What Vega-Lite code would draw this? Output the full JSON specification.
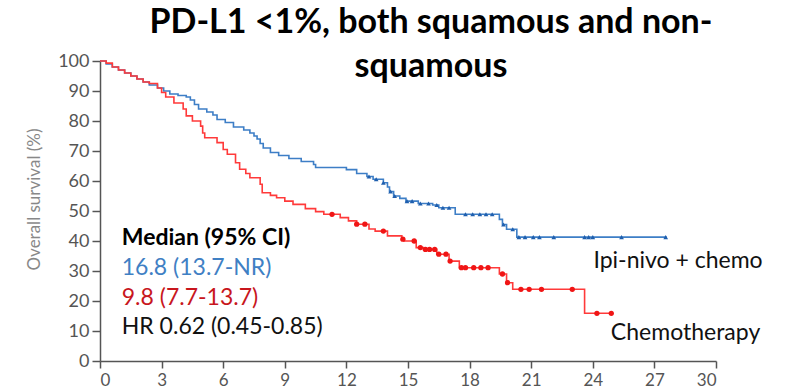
{
  "$schema": "https://vega.github.io/schema/vega-lite/v6.json",
  "width": 616,
  "height": 300,
  "autosize": "none",
  "padding": {"left": 100, "top": 61, "right": 73, "bottom": 31},
  "background": "white",
  "config": {
    "view": {"stroke": null},
    "font": "Lato",
    "axis": {
      "grid": false,
      "labelOverlap": false,
      "domainColor": "#555555",
      "domainWidth": 1.5,
      "tickColor": "#555555",
      "tickWidth": 1.5,
      "labelFont": "Lato",
      "labelColor": "#555555"
    },
    "axisX": {
      "tickSize": 7,
      "labelFontSize": 17,
      "labelPadding": 4
    },
    "axisY": {
      "tickSize": 8,
      "labelFontSize": 18,
      "labelPadding": 3,
      "titleFont": "Lato",
      "titleFontSize": 17,
      "titleFontWeight": "normal",
      "titleColor": "#888888",
      "titlePadding": 14,
      "titleY": 138
    }
  },
  "title": {
    "text": ["PD-L1 <1%, both squamous and non-", "squamous"],
    "font": "Lato",
    "fontSize": 34,
    "fontWeight": "bold",
    "color": "#000000",
    "lineHeight": 44,
    "anchor": "middle",
    "frame": "group",
    "dx": 23,
    "offset": -32
  },
  "datasets": {
    "curves": [
      {"arm": "Ipi-nivo + chemo", "month": 0, "surv": 100},
      {"arm": "Ipi-nivo + chemo", "month": 0.3, "surv": 99},
      {"arm": "Ipi-nivo + chemo", "month": 0.6, "surv": 98},
      {"arm": "Ipi-nivo + chemo", "month": 0.9, "surv": 97},
      {"arm": "Ipi-nivo + chemo", "month": 1.2, "surv": 96},
      {"arm": "Ipi-nivo + chemo", "month": 1.5, "surv": 95},
      {"arm": "Ipi-nivo + chemo", "month": 1.8, "surv": 94},
      {"arm": "Ipi-nivo + chemo", "month": 2.1, "surv": 93},
      {"arm": "Ipi-nivo + chemo", "month": 2.4, "surv": 92},
      {"arm": "Ipi-nivo + chemo", "month": 2.8, "surv": 91},
      {"arm": "Ipi-nivo + chemo", "month": 3.1, "surv": 90},
      {"arm": "Ipi-nivo + chemo", "month": 3.4, "surv": 89},
      {"arm": "Ipi-nivo + chemo", "month": 3.8, "surv": 88.5},
      {"arm": "Ipi-nivo + chemo", "month": 4.2, "surv": 88},
      {"arm": "Ipi-nivo + chemo", "month": 4.4, "surv": 87},
      {"arm": "Ipi-nivo + chemo", "month": 4.6, "surv": 85.5},
      {"arm": "Ipi-nivo + chemo", "month": 4.8, "surv": 84},
      {"arm": "Ipi-nivo + chemo", "month": 5.2, "surv": 83},
      {"arm": "Ipi-nivo + chemo", "month": 5.5, "surv": 82},
      {"arm": "Ipi-nivo + chemo", "month": 5.7, "surv": 80.5},
      {"arm": "Ipi-nivo + chemo", "month": 6.1, "surv": 79.5},
      {"arm": "Ipi-nivo + chemo", "month": 6.5, "surv": 78},
      {"arm": "Ipi-nivo + chemo", "month": 7.0, "surv": 77},
      {"arm": "Ipi-nivo + chemo", "month": 7.3, "surv": 76},
      {"arm": "Ipi-nivo + chemo", "month": 7.5, "surv": 75},
      {"arm": "Ipi-nivo + chemo", "month": 7.65, "surv": 74},
      {"arm": "Ipi-nivo + chemo", "month": 7.8, "surv": 72.5},
      {"arm": "Ipi-nivo + chemo", "month": 7.95, "surv": 71},
      {"arm": "Ipi-nivo + chemo", "month": 8.3, "surv": 69.5},
      {"arm": "Ipi-nivo + chemo", "month": 8.7, "surv": 68.5},
      {"arm": "Ipi-nivo + chemo", "month": 9.2, "surv": 67.5},
      {"arm": "Ipi-nivo + chemo", "month": 9.8, "surv": 66.5},
      {"arm": "Ipi-nivo + chemo", "month": 10.4, "surv": 65.5},
      {"arm": "Ipi-nivo + chemo", "month": 10.5, "surv": 64.5},
      {"arm": "Ipi-nivo + chemo", "month": 12.0, "surv": 63.8},
      {"arm": "Ipi-nivo + chemo", "month": 12.5, "surv": 62.5},
      {"arm": "Ipi-nivo + chemo", "month": 13.0, "surv": 61.5},
      {"arm": "Ipi-nivo + chemo", "month": 13.3, "surv": 60.6},
      {"arm": "Ipi-nivo + chemo", "month": 13.8, "surv": 59.4},
      {"arm": "Ipi-nivo + chemo", "month": 14.0, "surv": 58},
      {"arm": "Ipi-nivo + chemo", "month": 14.1, "surv": 56.5},
      {"arm": "Ipi-nivo + chemo", "month": 14.3, "surv": 55},
      {"arm": "Ipi-nivo + chemo", "month": 14.6, "surv": 54.2},
      {"arm": "Ipi-nivo + chemo", "month": 14.9, "surv": 53.3},
      {"arm": "Ipi-nivo + chemo", "month": 15.5, "surv": 52.5},
      {"arm": "Ipi-nivo + chemo", "month": 16.2, "surv": 52},
      {"arm": "Ipi-nivo + chemo", "month": 16.5, "surv": 51.1},
      {"arm": "Ipi-nivo + chemo", "month": 17.3, "surv": 48.9},
      {"arm": "Ipi-nivo + chemo", "month": 19.45, "surv": 47.2},
      {"arm": "Ipi-nivo + chemo", "month": 19.6, "surv": 45.5},
      {"arm": "Ipi-nivo + chemo", "month": 19.8, "surv": 43.9},
      {"arm": "Ipi-nivo + chemo", "month": 20.3, "surv": 41.3},
      {"arm": "Ipi-nivo + chemo", "month": 27.6, "surv": 41.3},
      {"arm": "Chemotherapy", "month": 0, "surv": 100},
      {"arm": "Chemotherapy", "month": 0.3, "surv": 99.3},
      {"arm": "Chemotherapy", "month": 0.6, "surv": 98},
      {"arm": "Chemotherapy", "month": 0.9, "surv": 97},
      {"arm": "Chemotherapy", "month": 1.2, "surv": 96},
      {"arm": "Chemotherapy", "month": 1.5, "surv": 95},
      {"arm": "Chemotherapy", "month": 1.8, "surv": 94},
      {"arm": "Chemotherapy", "month": 2.1, "surv": 93},
      {"arm": "Chemotherapy", "month": 2.4, "surv": 92.5},
      {"arm": "Chemotherapy", "month": 2.8, "surv": 91},
      {"arm": "Chemotherapy", "month": 3.0, "surv": 89.5},
      {"arm": "Chemotherapy", "month": 3.2, "surv": 88},
      {"arm": "Chemotherapy", "month": 3.6, "surv": 86},
      {"arm": "Chemotherapy", "month": 4.05, "surv": 84},
      {"arm": "Chemotherapy", "month": 4.2, "surv": 81.7},
      {"arm": "Chemotherapy", "month": 4.5, "surv": 80},
      {"arm": "Chemotherapy", "month": 4.9, "surv": 78.3},
      {"arm": "Chemotherapy", "month": 5.0, "surv": 76},
      {"arm": "Chemotherapy", "month": 5.1, "surv": 74.4},
      {"arm": "Chemotherapy", "month": 5.7, "surv": 72.8},
      {"arm": "Chemotherapy", "month": 6.0, "surv": 70.5},
      {"arm": "Chemotherapy", "month": 6.2, "surv": 68.9},
      {"arm": "Chemotherapy", "month": 6.6, "surv": 66.1},
      {"arm": "Chemotherapy", "month": 6.8, "surv": 63.9},
      {"arm": "Chemotherapy", "month": 7.1, "surv": 62.5},
      {"arm": "Chemotherapy", "month": 7.3, "surv": 61.1},
      {"arm": "Chemotherapy", "month": 7.8, "surv": 58.9},
      {"arm": "Chemotherapy", "month": 7.9, "surv": 56.1},
      {"arm": "Chemotherapy", "month": 8.3, "surv": 55.2},
      {"arm": "Chemotherapy", "month": 8.6, "surv": 54.4},
      {"arm": "Chemotherapy", "month": 9.0, "surv": 53.3},
      {"arm": "Chemotherapy", "month": 9.4, "surv": 52.2},
      {"arm": "Chemotherapy", "month": 10.0, "surv": 50.8},
      {"arm": "Chemotherapy", "month": 10.5, "surv": 49.8},
      {"arm": "Chemotherapy", "month": 10.9, "surv": 48.9},
      {"arm": "Chemotherapy", "month": 11.7, "surv": 47.8},
      {"arm": "Chemotherapy", "month": 12.1, "surv": 46.7},
      {"arm": "Chemotherapy", "month": 12.5, "surv": 45.6},
      {"arm": "Chemotherapy", "month": 13.1, "surv": 44},
      {"arm": "Chemotherapy", "month": 13.4, "surv": 43.3},
      {"arm": "Chemotherapy", "month": 14.0, "surv": 41.7},
      {"arm": "Chemotherapy", "month": 14.7, "surv": 40.6},
      {"arm": "Chemotherapy", "month": 14.8, "surv": 40},
      {"arm": "Chemotherapy", "month": 15.4, "surv": 37.8},
      {"arm": "Chemotherapy", "month": 15.75, "surv": 37.2},
      {"arm": "Chemotherapy", "month": 16.4, "surv": 35.6},
      {"arm": "Chemotherapy", "month": 17.0, "surv": 33.3},
      {"arm": "Chemotherapy", "month": 17.5, "surv": 31.1},
      {"arm": "Chemotherapy", "month": 19.45, "surv": 29},
      {"arm": "Chemotherapy", "month": 19.8, "surv": 26.1},
      {"arm": "Chemotherapy", "month": 20.1, "surv": 23.9},
      {"arm": "Chemotherapy", "month": 23.6, "surv": 15.9},
      {"arm": "Chemotherapy", "month": 24.9, "surv": 15.9}
    ],
    "censored": [
      {"arm": "Ipi-nivo + chemo", "month": 13.1, "surv": 61.5},
      {"arm": "Ipi-nivo + chemo", "month": 13.45, "surv": 60.6},
      {"arm": "Ipi-nivo + chemo", "month": 13.8, "surv": 59.4},
      {"arm": "Ipi-nivo + chemo", "month": 14.15, "surv": 56.5},
      {"arm": "Ipi-nivo + chemo", "month": 14.35, "surv": 55},
      {"arm": "Ipi-nivo + chemo", "month": 14.95, "surv": 53.3},
      {"arm": "Ipi-nivo + chemo", "month": 15.2, "surv": 53.3},
      {"arm": "Ipi-nivo + chemo", "month": 15.6, "surv": 52.5},
      {"arm": "Ipi-nivo + chemo", "month": 16.0, "surv": 52.5},
      {"arm": "Ipi-nivo + chemo", "month": 16.4, "surv": 52},
      {"arm": "Ipi-nivo + chemo", "month": 16.7, "surv": 51.1},
      {"arm": "Ipi-nivo + chemo", "month": 17.0, "surv": 51.1},
      {"arm": "Ipi-nivo + chemo", "month": 17.8, "surv": 48.9},
      {"arm": "Ipi-nivo + chemo", "month": 18.15, "surv": 48.9},
      {"arm": "Ipi-nivo + chemo", "month": 18.5, "surv": 48.9},
      {"arm": "Ipi-nivo + chemo", "month": 18.8, "surv": 48.9},
      {"arm": "Ipi-nivo + chemo", "month": 19.1, "surv": 48.9},
      {"arm": "Ipi-nivo + chemo", "month": 19.65, "surv": 45.5},
      {"arm": "Ipi-nivo + chemo", "month": 20.1, "surv": 43.9},
      {"arm": "Ipi-nivo + chemo", "month": 20.4, "surv": 41.3},
      {"arm": "Ipi-nivo + chemo", "month": 20.7, "surv": 41.3},
      {"arm": "Ipi-nivo + chemo", "month": 21.1, "surv": 41.3},
      {"arm": "Ipi-nivo + chemo", "month": 21.4, "surv": 41.3},
      {"arm": "Ipi-nivo + chemo", "month": 22.1, "surv": 41.3},
      {"arm": "Ipi-nivo + chemo", "month": 23.6, "surv": 41.3},
      {"arm": "Ipi-nivo + chemo", "month": 23.8, "surv": 41.3},
      {"arm": "Ipi-nivo + chemo", "month": 24.0, "surv": 41.3},
      {"arm": "Ipi-nivo + chemo", "month": 25.4, "surv": 41.3},
      {"arm": "Ipi-nivo + chemo", "month": 27.55, "surv": 41.3},
      {"arm": "Chemotherapy", "month": 11.3, "surv": 48.9},
      {"arm": "Chemotherapy", "month": 12.5, "surv": 45.6},
      {"arm": "Chemotherapy", "month": 12.9, "surv": 45.6},
      {"arm": "Chemotherapy", "month": 13.8, "surv": 43.3},
      {"arm": "Chemotherapy", "month": 14.75, "surv": 40.6},
      {"arm": "Chemotherapy", "month": 15.3, "surv": 40},
      {"arm": "Chemotherapy", "month": 15.6, "surv": 37.8},
      {"arm": "Chemotherapy", "month": 15.85, "surv": 37.2},
      {"arm": "Chemotherapy", "month": 16.05, "surv": 37.2},
      {"arm": "Chemotherapy", "month": 16.3, "surv": 37.2},
      {"arm": "Chemotherapy", "month": 16.5, "surv": 35.6},
      {"arm": "Chemotherapy", "month": 16.85, "surv": 35.6},
      {"arm": "Chemotherapy", "month": 17.05, "surv": 33.3},
      {"arm": "Chemotherapy", "month": 17.6, "surv": 31.1},
      {"arm": "Chemotherapy", "month": 17.8, "surv": 31.1},
      {"arm": "Chemotherapy", "month": 18.2, "surv": 31.1},
      {"arm": "Chemotherapy", "month": 18.55, "surv": 31.1},
      {"arm": "Chemotherapy", "month": 18.9, "surv": 31.1},
      {"arm": "Chemotherapy", "month": 19.6, "surv": 29},
      {"arm": "Chemotherapy", "month": 19.85, "surv": 26.1},
      {"arm": "Chemotherapy", "month": 20.5, "surv": 23.9},
      {"arm": "Chemotherapy", "month": 20.9, "surv": 23.9},
      {"arm": "Chemotherapy", "month": 21.5, "surv": 23.9},
      {"arm": "Chemotherapy", "month": 23.0, "surv": 23.9},
      {"arm": "Chemotherapy", "month": 24.2, "surv": 15.9},
      {"arm": "Chemotherapy", "month": 24.9, "surv": 15.9}
    ]
  },
  "layer": [
    {
      "data": {"name": "curves"},
      "mark": {"type": "line", "interpolate": "step-after", "strokeWidth": 1.6},
      "encoding": {
        "x": {
          "field": "month",
          "type": "quantitative",
          "scale": {"domain": [0, 30], "nice": false, "zero": true},
          "axis": {"values": [0, 3, 6, 9, 12, 15, 18, 21, 24, 27, 30], "title": null}
        },
        "y": {
          "field": "surv",
          "type": "quantitative",
          "scale": {"domain": [0, 100], "nice": false},
          "axis": {"values": [0, 10, 20, 30, 40, 50, 60, 70, 80, 90, 100], "title": "Overall survival (%)"}
        },
        "color": {
          "field": "arm",
          "type": "nominal",
          "scale": {"domain": ["Ipi-nivo + chemo", "Chemotherapy"], "range": ["#3d7ec6", "#ff3a3a"]},
          "legend": null
        },
        "detail": {"field": "arm"}
      }
    },
    {
      "data": {"name": "censored"},
      "transform": [{"filter": "datum.arm === 'Ipi-nivo + chemo'"}],
      "mark": {"type": "point", "shape": "triangle-up", "filled": true, "size": 22, "color": "#1f5fae", "opacity": 1},
      "encoding": {
        "x": {"field": "month", "type": "quantitative", "axis": {"values": [0, 3, 6, 9, 12, 15, 18, 21, 24, 27, 30], "title": null}},
        "y": {"field": "surv", "type": "quantitative", "axis": {"values": [0, 10, 20, 30, 40, 50, 60, 70, 80, 90, 100], "title": "Overall survival (%)"}}
      }
    },
    {
      "data": {"name": "censored"},
      "transform": [{"filter": "datum.arm === 'Chemotherapy'"}],
      "mark": {"type": "point", "shape": "circle", "filled": true, "size": 28, "color": "#f01515", "opacity": 1},
      "encoding": {
        "x": {"field": "month", "type": "quantitative", "axis": {"values": [0, 3, 6, 9, 12, 15, 18, 21, 24, 27, 30], "title": null}},
        "y": {"field": "surv", "type": "quantitative", "axis": {"values": [0, 10, 20, 30, 40, 50, 60, 70, 80, 90, 100], "title": "Overall survival (%)"}}
      }
    },
    {
      "data": {"values": [
        {"label": "Median (95% CI)"}
      ]},
      "mark": {"type": "text", "align": "left", "baseline": "middle", "font": "Lato", "fontSize": 23, "fontWeight": "bold", "color": "#000000"},
      "encoding": {
        "text": {"field": "label"},
        "x": {"datum": 1.06, "axis": {"values": [0, 3, 6, 9, 12, 15, 18, 21, 24, 27, 30], "title": null}},
        "y": {"datum": 40.9, "axis": {"values": [0, 10, 20, 30, 40, 50, 60, 70, 80, 90, 100], "title": "Overall survival (%)"}}
      }
    },
    {
      "data": {"values": [{"label": "16.8 (13.7-NR)"}]},
      "mark": {"type": "text", "align": "left", "baseline": "middle", "font": "Lato", "fontSize": 23, "color": "#3f80c4"},
      "encoding": {
        "text": {"field": "label"},
        "x": {"datum": 1.06, "axis": {"values": [0, 3, 6, 9, 12, 15, 18, 21, 24, 27, 30], "title": null}},
        "y": {"datum": 30.9, "axis": {"values": [0, 10, 20, 30, 40, 50, 60, 70, 80, 90, 100], "title": "Overall survival (%)"}}
      }
    },
    {
      "data": {"values": [{"label": "9.8 (7.7-13.7)"}]},
      "mark": {"type": "text", "align": "left", "baseline": "middle", "font": "Lato", "fontSize": 23, "color": "#c8161d"},
      "encoding": {
        "text": {"field": "label"},
        "x": {"datum": 1.06, "axis": {"values": [0, 3, 6, 9, 12, 15, 18, 21, 24, 27, 30], "title": null}},
        "y": {"datum": 20.9, "axis": {"values": [0, 10, 20, 30, 40, 50, 60, 70, 80, 90, 100], "title": "Overall survival (%)"}}
      }
    },
    {
      "data": {"values": [{"label": "HR 0.62 (0.45-0.85)"}]},
      "mark": {"type": "text", "align": "left", "baseline": "middle", "font": "Lato", "fontSize": 23, "color": "#111111"},
      "encoding": {
        "text": {"field": "label"},
        "x": {"datum": 1.06, "axis": {"values": [0, 3, 6, 9, 12, 15, 18, 21, 24, 27, 30], "title": null}},
        "y": {"datum": 11.4, "axis": {"values": [0, 10, 20, 30, 40, 50, 60, 70, 80, 90, 100], "title": "Overall survival (%)"}}
      }
    },
    {
      "data": {"values": [{"label": "Ipi-nivo + chemo"}]},
      "mark": {"type": "text", "align": "left", "baseline": "middle", "font": "Lato", "fontSize": 23, "color": "#111111"},
      "encoding": {
        "text": {"field": "label"},
        "x": {"datum": 24.03, "axis": {"values": [0, 3, 6, 9, 12, 15, 18, 21, 24, 27, 30], "title": null}},
        "y": {"datum": 33.4, "axis": {"values": [0, 10, 20, 30, 40, 50, 60, 70, 80, 90, 100], "title": "Overall survival (%)"}}
      }
    },
    {
      "data": {"values": [{"label": "Chemotherapy"}]},
      "mark": {"type": "text", "align": "left", "baseline": "middle", "font": "Lato", "fontSize": 23, "color": "#111111"},
      "encoding": {
        "text": {"field": "label"},
        "x": {"datum": 24.88, "axis": {"values": [0, 3, 6, 9, 12, 15, 18, 21, 24, 27, 30], "title": null}},
        "y": {"datum": 9.3, "axis": {"values": [0, 10, 20, 30, 40, 50, 60, 70, 80, 90, 100], "title": "Overall survival (%)"}}
      }
    }
  ]
}
